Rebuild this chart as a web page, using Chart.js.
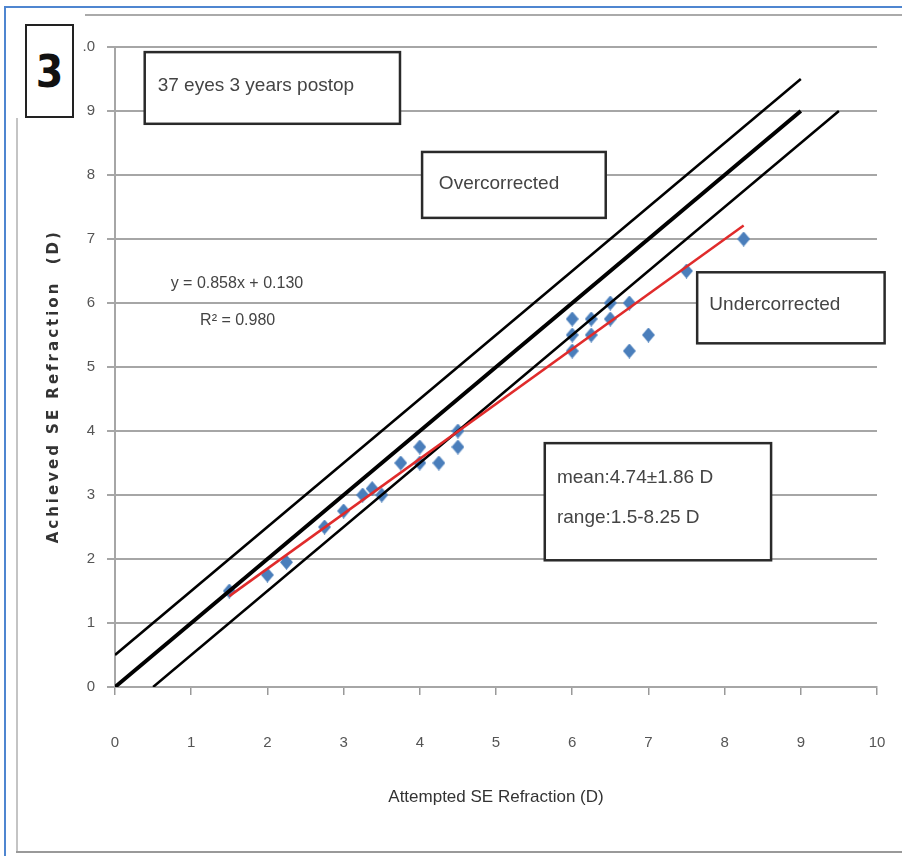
<!DOCTYPE html>
<html>
<head>
<meta charset="utf-8">
<script src="https://cdn.jsdelivr.net/npm/chart.js@4.4.1/dist/chart.umd.min.js"></script>
<style>
  body { margin: 0; background: #fff; }
  #wrap { position: relative; width: 902px; height: 856px; }
  .deco { position: absolute; pointer-events: none; }
  #panel {
    position: absolute; left: 25px; top: 24px; width: 45px; height: 90px;
    border: 2.5px solid #222; background: #fff;
    font: bold 44px "DejaVu Sans Condensed", "DejaVu Sans", sans-serif; color: #111;
    display: flex; align-items: center; justify-content: center;
  }
</style>
</head>
<body>
<div id="wrap">
  <canvas id="myChart" width="902" height="856"></canvas>
  <div class="deco" style="left:5px;top:6px;width:897px;height:2px;background:#4f86d0"></div>
  <div class="deco" style="left:4px;top:6px;width:2px;height:850px;background:#4f86d0"></div>
  <div class="deco" style="left:85px;top:14px;width:817px;height:2px;background:#aaa"></div>
  <div class="deco" style="left:16px;top:118px;width:2px;height:735px;background:#c4c4c4"></div>
  <div class="deco" style="left:16px;top:851px;width:886px;height:2px;background:#999"></div>
  <div id="panel">3</div>
</div>
<script>
// data
let attempted = [1.5, 2, 2.25, 2.75, 3, 3.25, 3.375, 3.5, 3.75, 4, 4, 4.25, 4.5, 4.5,
                 6, 6, 6, 6.25, 6.25, 6.5, 6.5, 6.75, 6.75, 7, 7.5, 8.25];
let achieved  = [1.5, 1.75, 1.95, 2.5, 2.75, 3, 3.1, 3, 3.5, 3.75, 3.5, 3.5, 4, 3.75,
                 5.75, 5.5, 5.25, 5.75, 5.5, 6, 5.75, 6, 5.25, 5.5, 6.5, 7];

let idealX = [0, 9],     idealY = [0, 9];       // y = x
let overX  = [0, 9],     overY  = [0.5, 9.5];   // +0.5 D
let underX = [0.5, 9.5], underY = [0, 9];       // -0.5 D
let fitX   = [1.5, 8.25], fitY  = [1.42, 7.21]; // trend line

let xTicks = [0, 1, 2, 3, 4, 5, 6, 7, 8, 9, 10];
let yTickLabels = ['0', '1', '2', '3', '4', '5', '6', '7', '8', '9', '.0'];

let textFont = '"Liberation Sans Narrow", "Liberation Sans", sans-serif';

function pts(xs, ys) {
  return xs.map(function(x, i) { return {x: x, y: ys[i]}; });
}

// diamond marker, a bit taller than wide
let diamond = document.createElement('canvas');
diamond.width = 13; diamond.height = 15;
let dctx = diamond.getContext('2d');
dctx.fillStyle = '#4a7ebb';
dctx.beginPath();
dctx.moveTo(6.5, 0); dctx.lineTo(13, 7.5); dctx.lineTo(6.5, 15); dctx.lineTo(0, 7.5);
dctx.closePath(); dctx.fill();

// boxes and notes placed in data units
let notes = [
  {box: [0.39, 9.92, 3.74, 8.80], lines: ['37 eyes 3 years postop'], at: [0.56, 9.4], size: 19},
  {box: [4.03, 8.36, 6.44, 7.33], lines: ['Overcorrected'], at: [4.25, 7.86], size: 19},
  {box: [7.64, 6.48, 10.1, 5.37], lines: ['Undercorrected'], at: [7.8, 5.97], size: 19},
  {box: [5.64, 3.81, 8.61, 1.98], lines: ['mean:4.74\u00b11.86 D', 'range:1.5-8.25 D'], at: [5.8, 3.27], size: 19, gap: 0.63},
  {lines: ['y = 0.858x + 0.130'], at: [1.60, 6.31], size: 16, center: true},
  {lines: ['R\u00b2 = 0.980'], at: [1.61, 5.73], size: 16, center: true}
];
let yTitle = 'Achieved SE Refraction  (D)';

let notesPlugin = {
  id: 'notes',
  beforeDatasetsDraw: function(chart) {
    let ctx = chart.ctx, xs = chart.scales.x, ys = chart.scales.y;
    ctx.save();
    notes.forEach(function(n) {
      if (n.box) {
        let l = xs.getPixelForValue(n.box[0]), t = ys.getPixelForValue(n.box[1]);
        let r = xs.getPixelForValue(n.box[2]), b = ys.getPixelForValue(n.box[3]);
        ctx.fillStyle = '#fff';
        ctx.fillRect(l, t, r - l, b - t);
        ctx.strokeStyle = '#2a2a2a';
        ctx.lineWidth = 2.5;
        ctx.strokeRect(l, t, r - l, b - t);
      }
      ctx.fillStyle = '#444';
      ctx.font = n.size + 'px ' + textFont;
      ctx.textBaseline = 'middle';
      ctx.textAlign = n.center ? 'center' : 'left';
      n.lines.forEach(function(s, i) {
        let y = n.at[1] - i * (n.gap || 0);
        ctx.fillText(s, xs.getPixelForValue(n.at[0]), ys.getPixelForValue(y));
      });
    });
    // y axis title, letter-spaced like the original
    ctx.translate(ys.left + 14, ys.getPixelForValue(4.7));
    ctx.rotate(-Math.PI / 2);
    ctx.letterSpacing = '3px';
    ctx.font = 'bold 15px "DejaVu Sans", sans-serif';
    ctx.fillStyle = '#333';
    ctx.textAlign = 'center';
    ctx.textBaseline = 'middle';
    ctx.fillText(yTitle, 0, 0);
    ctx.restore();
  }
};

function makeChart() {
  let ctx = document.getElementById('myChart');
  return new Chart(ctx, {
    type: 'scatter',
    data: {
      datasets: [
        {data: pts(idealX, idealY), showLine: true, borderColor: '#000', borderWidth: 4, pointRadius: 0, order: 1},
        {data: pts(overX, overY), showLine: true, borderColor: '#000', borderWidth: 2.5, pointRadius: 0, order: 1},
        {data: pts(underX, underY), showLine: true, borderColor: '#000', borderWidth: 2.5, pointRadius: 0, order: 1},
        {data: pts(fitX, fitY), showLine: true, borderColor: '#e02b2b', borderWidth: 2.5, pointRadius: 0, order: 0},
        {data: pts(attempted, achieved), pointStyle: diamond, pointRadius: 7, order: 5}
      ]
    },
    options: {
      responsive: false,
      animation: false,
      devicePixelRatio: 1,
      layout: {autoPadding: false, padding: {left: 40, right: 25, top: 47, bottom: 0}},
      plugins: {legend: {display: false}, tooltip: {enabled: false}},
      scales: {
        x: {
          type: 'linear', min: 0, max: 10,
          afterBuildTicks: function(s) { s.ticks = xTicks.map(function(v) { return {value: v}; }); },
          afterFit: function(s) { s.height = 169; s.paddingLeft = 0; s.paddingRight = 0; },
          ticks: {color: '#555', font: {size: 15, family: textFont}, padding: 39},
          grid: {drawOnChartArea: false, drawTicks: true, tickLength: 8, color: '#999', lineWidth: 1.5},
          border: {color: '#a6a6a6', width: 2},
          title: {display: true, text: 'Attempted SE Refraction (D)', color: '#333',
                  font: {size: 17, family: textFont}, padding: {top: 0, bottom: 48}}
        },
        y: {
          type: 'linear', min: 0, max: 10,
          afterBuildTicks: function(s) { s.ticks = yTickLabels.map(function(v, i) { return {value: i}; }); },
          afterFit: function(s) { s.width = 75; },
          ticks: {color: '#555', font: {size: 15, family: textFont}, padding: 12,
                  callback: function(v) { return yTickLabels[v]; }},
          grid: {color: '#a6a6a6', lineWidth: 2, tickLength: 8},
          border: {color: '#a6a6a6', width: 2},
          title: {display: false, text: yTitle}
        }
      }
    },
    plugins: [notesPlugin]
  });
}

makeChart();
</script>
</body>
</html>
